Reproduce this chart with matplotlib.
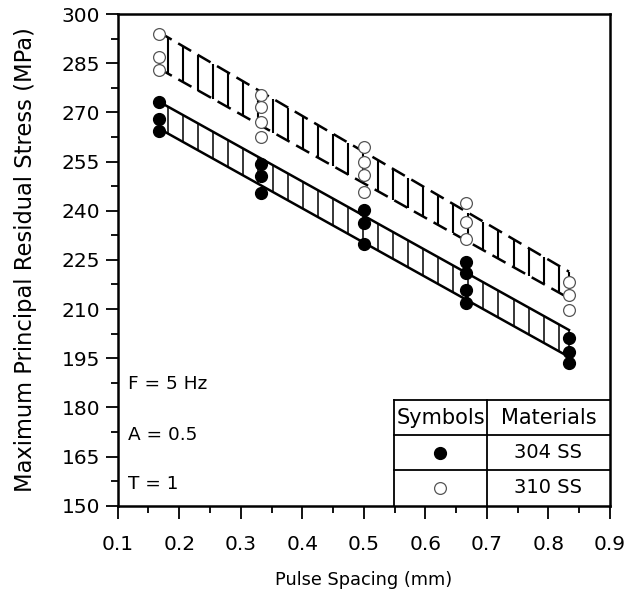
import numpy as np
import matplotlib
matplotlib.use("Agg")
import matplotlib.pyplot as plt
from matplotlib.ticker import MultipleLocator

# ---- data ----
x_304 = [1/6]*3 + [1/3]*3 + [0.5]*3 + [2/3]*4 + [5/6]*3
y_304 = [273.3, 268.0, 264.2,
         254.2, 250.6, 245.3,
         240.3, 236.1, 229.8,
         224.4, 220.9, 215.7, 211.8,
         201.1, 196.9, 193.4]
x_310 = [1/6]*3 + [1/3]*4 + [0.5]*4 + [2/3]*3 + [5/6]*3
y_310 = [294.0, 286.8, 282.8,
         275.4, 271.7, 267.1, 262.4,
         259.3, 255.0, 250.8, 245.6,
         242.3, 236.6, 231.5,
         218.2, 214.4, 209.6]
band_x = [1/6, 5/6]
band_304_upper = [273.3, 203.6]
band_304_lower = [265.1, 195.4]
band_310_upper = [294.5, 221.4]
band_310_lower = [283.4, 213.3]
annotations = ["F = 5 Hz", "A = 0.5", "T = 1"]
annotation_y = [187.2, 171.6, 156.6]
table_header = ["Symbols", "Materials"]
materials = ["304 SS", "310 SS"]

plt.rcParams['font.family'] = ['DejaVu Sans']

fig = plt.figure(figsize=(6.39, 5.98), dpi=100)
ax = fig.add_axes([117.7/639, 1-505.7/598, (610-117.7)/639, (505.7-14)/598])

def band(upper, lower, ls, lw_h):
    kw = dict(color='black', lw=1.8, zorder=2)
    if ls == '--':
        kw['dashes'] = (6, 3)
    ax.plot(band_x, upper, **kw)
    ax.plot(band_x, lower, **kw)
    hx = np.arange(0.182, band_x[1] + 1e-6, 0.0244)
    hx = np.append(hx, band_x[1])
    up = np.interp(hx, band_x, upper)
    lo = np.interp(hx, band_x, lower)
    ax.vlines(hx, lo, up, color='black', lw=lw_h, zorder=2)

band(band_304_upper, band_304_lower, '-', 1.1)
band(band_310_upper, band_310_lower, '--', 1.5)

ax.plot(x_304, y_304, 'o', color='black', ms=8.5, ls='none', zorder=3)
ax.plot(x_310, y_310, 'o', mfc='white', mec='#555555', mew=0.9, ms=8.5, ls='none', zorder=3)

ax.set_xlim(0.1, 0.9)
ax.set_ylim(150, 300)
ax.xaxis.set_minor_locator(MultipleLocator(0.05))
ax.yaxis.set_major_locator(MultipleLocator(15))
ax.yaxis.set_minor_locator(MultipleLocator(7.5))
ax.set_xticks(np.round(np.arange(0.1, 0.91, 0.1), 1))
ax.set_xticklabels([f"{v:.1f}" for v in ax.get_xticks()])
ax.tick_params(which='major', direction='out', length=9, width=1.3, labelsize=14.5)
ax.tick_params(axis='y', which='major', pad=3.5)
ax.tick_params(axis='x', which='major', pad=12)
ax.tick_params(which='minor', direction='out', length=5, width=1.3)
for s in ax.spines.values():
    s.set_linewidth(1.8)

ax.set_xlabel("Pulse Spacing (mm)", fontsize=12.8, labelpad=12)
ax.set_ylabel("Maximum Principal Residual Stress (MPa)", fontsize=16.3, labelpad=18)

for t, yv in zip(annotations, annotation_y):
    ax.text(0.1175, yv, t, fontsize=13.3, va='center', ha='left')

# legend table (axes fraction)
x0, x1, x2 = (394-117.7)/492.3, (487-117.7)/492.3, 1.0
rows = [(505.7-400)/491.7, (505.7-435)/491.7, (505.7-470)/491.7, 0.0]
tk = dict(transform=ax.transAxes, color='black', lw=1.3, zorder=4)
ax.plot([x0, x0], [rows[0], 0], **tk)
ax.plot([x1, x1], [rows[0], 0], **tk)
for r in rows[:3]:
    ax.plot([x0, x2], [r, r], **tk)
ax.text((x0+x1)/2, (rows[0]+rows[1])/2, table_header[0], transform=ax.transAxes,
        ha='center', va='center', fontsize=15)
ax.text((x1+x2)/2, (rows[0]+rows[1])/2, table_header[1], transform=ax.transAxes,
        ha='center', va='center', fontsize=15)
ax.plot([(x0+x1)/2], [(rows[1]+rows[2])/2], 'o', color='black', ms=8.5, transform=ax.transAxes)
ax.plot([(x0+x1)/2], [(rows[2]+rows[3])/2], 'o', mfc='white', mec='#555555', mew=0.9, ms=8.5,
        transform=ax.transAxes)
ax.text((x1+x2)/2, (rows[1]+rows[2])/2, materials[0], transform=ax.transAxes,
        ha='center', va='center', fontsize=14)
ax.text((x1+x2)/2, (rows[2]+rows[3])/2, materials[1], transform=ax.transAxes,
        ha='center', va='center', fontsize=14)

fig.savefig("out.png", dpi=100)
